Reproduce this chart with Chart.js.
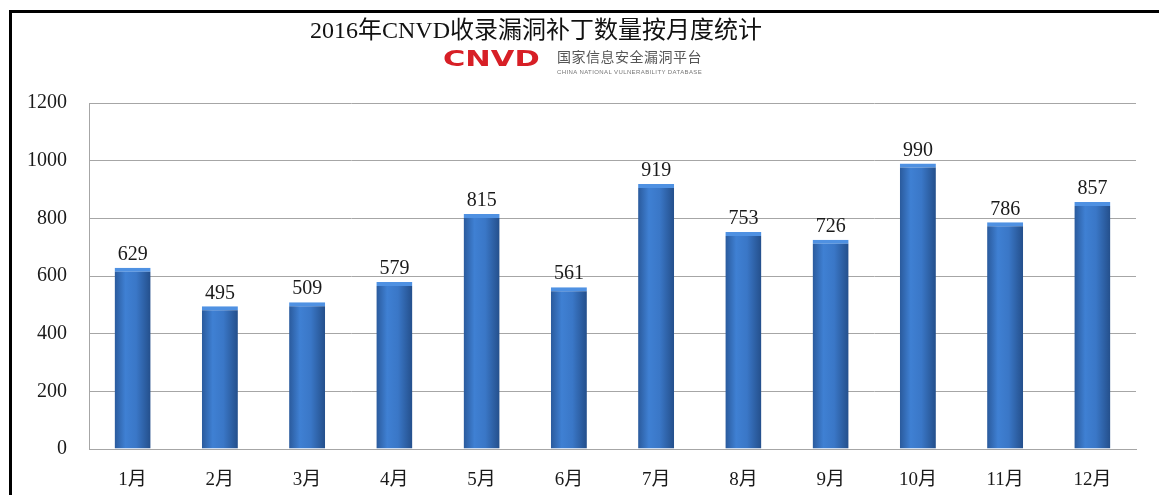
<!DOCTYPE html>
<html>
<head>
<meta charset="utf-8">
<script src="https://cdn.jsdelivr.net/npm/chart.js@4"></script>
<style>
  body { margin: 0; background: #fff; }
  #wrap { position: relative; width: 1159px; height: 495px; overflow: hidden; background: #fff; }
  #c { position: absolute; left: 0; top: 0; }
  .frame { position: absolute; left: 9px; top: 10px; width: 1160px; height: 500px;
           border-top: 3px solid #000; border-left: 3px solid #000; }
  .title { position: absolute; left: 310px; top: 15px; font: 24px/30px "Liberation Serif", "Noto Sans CJK SC"; color: #111; white-space: nowrap; }
  .cnvd { position: absolute; left: 443px; top: 47px; font: bold 21px/22px "DejaVu Sans"; color: #d71f26;
          transform: scale(1.45, 1.05); transform-origin: left top; }
  .cn { position: absolute; left: 557px; top: 48px; font: 14px/16px "Noto Sans CJK SC"; color: #555; letter-spacing: 0.5px; white-space: nowrap; }
  .en { position: absolute; left: 557px; top: 69px; font: 6px/7px "Liberation Sans"; color: #777; letter-spacing: 0.4px; white-space: nowrap; }
</style>
</head>
<body>
<div id="wrap">
  <canvas id="c" width="1159" height="495"></canvas>
  <div class="frame"></div>
  <div class="title">2016年CNVD收录漏洞补丁数量按月度统计</div>
  <div class="cnvd">CNVD</div>
  <div class="cn">国家信息安全漏洞平台</div>
  <div class="en">CHINA NATIONAL VULNERABILITY DATABASE</div>
</div>
<script>
// 月份与补丁数量
const months = ['1月', '2月', '3月', '4月', '5月', '6月', '7月', '8月', '9月', '10月', '11月', '12月'];
const patches = [629, 495, 509, 579, 815, 561, 919, 753, 726, 990, 786, 857];
const yTicks = [0, 200, 400, 600, 800, 1000, 1200];

const barPct = 0.413;

// 每根柱子的横向渐变
function barFill(context) {
    const chart = context.chart;
    const xs = chart.scales.x;
    if (!chart.chartArea || !xs) return '#3a78c8';
    const cx = xs.getPixelForValue(context.dataIndex);
    const half = (xs.width / months.length) * barPct / 2;
    const g = chart.ctx.createLinearGradient(cx - half, 0, cx + half, 0);
    g.addColorStop(0, '#2a5a9c');
    g.addColorStop(0.3, '#3f80d3');
    g.addColorStop(0.6, '#3a77c7');
    g.addColorStop(1, '#244f8b');
    return g;
}

// 柱顶数值
const valueLabels = {
    id: 'valueLabels',
    afterDatasetsDraw(chart) {
        const ctx = chart.ctx;
        const meta = chart.getDatasetMeta(0);
        ctx.save();
        ctx.font = '20px "Liberation Serif"';
        ctx.fillStyle = '#1a1a1a';
        ctx.textAlign = 'center';
        ctx.textBaseline = 'bottom';
        meta.data.forEach((bar, i) => {
            ctx.fillText(patches[i], bar.x, bar.y - 3);
        });
        ctx.restore();
    }
};

const config = {
    type: 'bar',
    data: {
        labels: months,
        datasets: [{
            data: patches,
            backgroundColor: barFill,
            borderColor: '#4f91e2',
            borderWidth: { top: 4, left: 0, right: 0, bottom: 0 },
            borderSkipped: false,
            barPercentage: barPct,
            categoryPercentage: 1
        }]
    },
    options: {
        responsive: false,
        animation: false,
        layout: { padding: { left: 0, right: 23, top: 103, bottom: 0 } },
        plugins: {
            legend: { display: false },
            tooltip: { enabled: false }
        },
        scales: {
            x: {
                grid: { display: false },
                border: { display: true, color: '#a6a6a6', width: 1 },
                ticks: {
                    padding: 12,
                    color: '#1a1a1a',
                    font: { family: '"Liberation Serif", "Noto Sans CJK SC"', size: 19 }
                },
                afterFit(scale) { scale.height = 46; }
            },
            y: {
                min: 0,
                max: 1200,
                afterBuildTicks(scale) { scale.ticks = yTicks.map(v => ({ value: v })); },
                grid: { color: '#a6a6a6', lineWidth: 1, drawTicks: false },
                border: { display: true, color: '#a6a6a6', width: 1 },
                ticks: {
                    padding: 22,
                    color: '#1a1a1a',
                    font: { family: '"Liberation Serif"', size: 20 },
                    callback: (v) => String(v)
                },
                afterFit(scale) { scale.width = 89; }
            }
        }
    },
    plugins: [valueLabels]
};

new Chart(document.getElementById('c'), config);
</script>
</body>
</html>
